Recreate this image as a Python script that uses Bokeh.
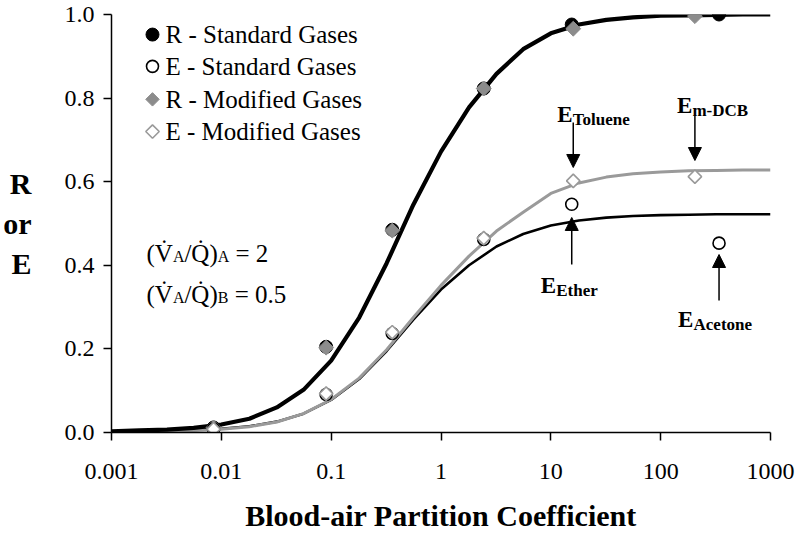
from bokeh.plotting import figure
from bokeh.models import Range1d, FixedTicker, Label, Arrow, NormalHead
from bokeh.embed import file_html
from bokeh.resources import INLINE
import math

# ---------------- data ----------------
lam_std = [0.0085, 0.09, 0.36, 2.45, 15.5, 340]
R_std = [0.012, 0.205, 0.485, 0.823, 0.976, 1.0]
E_std = [0.008, 0.091, 0.237, 0.462, 0.546, 0.453]

lam_mod = [0.0085, 0.09, 0.36, 2.45, 16.0, 205]
R_mod = [0.012, 0.203, 0.483, 0.823, 0.966, 0.996]
E_mod = [0.008, 0.093, 0.240, 0.465, 0.602, 0.612]

lam_curve = [0.001, 0.0018, 0.0032, 0.0056, 0.01, 0.018, 0.032, 0.056, 0.1,
             0.18, 0.32, 0.56, 1.0, 1.8, 3.2, 5.6, 10, 18, 32, 56, 100, 180,
             320, 560, 1000]
R_curve = [0.003, 0.005, 0.007, 0.011, 0.019, 0.033, 0.060, 0.102, 0.172,
           0.275, 0.405, 0.545, 0.672, 0.778, 0.858, 0.917, 0.955, 0.976,
           0.987, 0.993, 0.997, 0.998, 0.999, 1.0, 1.0]
E_curve_std = [0.002, 0.003, 0.004, 0.006, 0.009, 0.015, 0.026, 0.045, 0.078,
               0.128, 0.195, 0.270, 0.342, 0.400, 0.445, 0.475, 0.495, 0.507,
               0.514, 0.518, 0.520, 0.521, 0.522, 0.522, 0.522]
E_curve_mod = [0.001, 0.002, 0.003, 0.005, 0.008, 0.014, 0.025, 0.045, 0.079,
               0.130, 0.198, 0.275, 0.352, 0.422, 0.482, 0.527, 0.572, 0.597,
               0.611, 0.619, 0.623, 0.626, 0.627, 0.628, 0.628]

x_ticks = [0.001, 0.01, 0.1, 1, 10, 100, 1000]
x_tick_labels = ["0.001", "0.01", "0.1", "1", "10", "100", "1000"]
y_ticks = [0.0, 0.2, 0.4, 0.6, 0.8, 1.0]
y_tick_labels = ["0.0", "0.2", "0.4", "0.6", "0.8", "1.0"]

legend_labels = ["R - Standard Gases", "E - Standard Gases",
                 "R - Modified Gases", "E - Modified Gases"]

# ---------------- styles ----------------
FONT = "'Liberation Serif', 'Times New Roman', serif"
GREY_LINE = "#9a9a9a"
GREY_FILL = "#8c8c8c"

sty_R_std = dict(marker="circle", size=13, fill_color="black", line_color="black", line_width=1)
sty_E_std = dict(marker="circle", size=12, fill_color="white", line_color="black", line_width=1.6)
sty_R_mod = dict(marker="square", size=10.5, angle=math.pi / 4, fill_color=GREY_FILL,
                 line_color=GREY_FILL, line_width=1)
sty_E_mod = dict(marker="square", size=9.5, angle=math.pi / 4, fill_color="white",
                 line_color=GREY_LINE, line_width=1.6)

p = figure(width=800, height=534, x_axis_type="log",
           x_range=Range1d(0.001, 1000), y_range=Range1d(0, 1),
           output_backend="svg", toolbar_location=None,
           min_border_left=111, min_border_right=30,
           min_border_top=14, min_border_bottom=102)
p.background_fill_color = "white"
p.border_fill_color = "white"
p.outline_line_color = None
p.grid.visible = False

# curves
p.line(lam_curve, E_curve_std, line_color="black", line_width=2.6)
p.line(lam_curve, E_curve_mod, line_color=GREY_LINE, line_width=3)
p.line(lam_curve, R_curve, line_color="black", line_width=4.2)

# points
p.scatter(lam_std, R_std, **sty_R_std)
p.scatter(lam_mod, R_mod, **sty_R_mod)
p.scatter(lam_std, E_std, **sty_E_std)
p.scatter(lam_mod, E_mod, **sty_E_mod)

# axes
for ax in (p.xaxis[0], p.yaxis[0]):
    ax.axis_line_color = "black"
    ax.axis_line_width = 1.5
    ax.major_tick_line_color = "black"
    ax.major_tick_line_width = 1.5
    ax.major_tick_in = 0
    ax.major_tick_out = 8
    ax.minor_tick_line_color = None
    ax.major_label_text_font = FONT
    ax.major_label_text_font_size = "24px"
    ax.major_label_text_color = "black"
    ax.axis_label_text_font = FONT
    ax.axis_label_text_font_size = "30px"
    ax.axis_label_text_font_style = "bold"
    ax.axis_label_text_color = "black"

p.xaxis.ticker = FixedTicker(ticks=x_ticks)
p.xaxis.major_label_overrides = dict(zip(x_ticks, x_tick_labels))
p.xaxis.major_label_standoff = 23
p.xaxis.major_label_text_line_height = 1.0
p.xaxis.axis_label = "Blood-air Partition Coefficient"
p.xaxis.axis_label_standoff = 17
p.xaxis.axis_label_text_line_height = 1.0

p.yaxis.ticker = FixedTicker(ticks=y_ticks)
p.yaxis.major_label_overrides = dict(zip(y_ticks, y_tick_labels))
p.yaxis.major_label_standoff = 9
p.yaxis.axis_label = "R\nor\nE"
p.yaxis.axis_label_orientation = "horizontal"
p.yaxis.axis_label_standoff = 30


def label(x, y, text, size, bold=False, align="left", baseline="alphabetic", dx=0):
    p.add_layout(Label(x=x, y=y, text=text, x_offset=dx,
                       text_font=FONT, text_font_size=size,
                       text_font_style="bold" if bold else "normal",
                       text_align=align, text_baseline=baseline,
                       text_color="black"))


# legend (drawn by hand to keep rotated-square diamonds)
leg_mx, leg_tx = 0.002362, 0.003103
leg_y = [0.952, 0.876, 0.797, 0.720]
for yy, sty, txt in zip(leg_y, [sty_R_std, sty_E_std, sty_R_mod, sty_E_mod], legend_labels):
    s = dict(sty)
    if s["marker"] == "square":
        s["size"] = 9.5
    p.scatter([leg_mx], [yy], **s)
    label(leg_tx, yy, txt, "25px", baseline="middle")

# ventilation-perfusion ratios
vq_x = 0.002083
for yy, sub, rest, dxr in [(0.4282, "A", "= 2", 89.0), (0.3301, "B", "= 0.5", 88.2)]:
    label(vq_x, yy, "(V\u0307", "25px")
    label(vq_x, yy - 0.0072, "A", "16px", dx=26.4)
    label(vq_x, yy, "/Q\u0307)", "25px", dx=37.9)
    label(vq_x, yy - 0.0072, sub, "16px", dx=71.2)
    label(vq_x, yy, rest, "25px", dx=dxr)

# gas annotations: (subscript, gas x, arrow tail y, arrow tip y, label dx, label baseline y)
annots = [
    ("Toluene", lam_mod[4], 0.7416, 0.634, -16, 0.7608),
    ("m-DCB", lam_mod[5], 0.7584, 0.6507, -18, 0.7823),
    ("Ether", lam_std[4], 0.4019, 0.5144, -31, 0.3517),
    ("Acetone", lam_std[5], 0.3158, 0.4258, -41, 0.2703),
]
for sub, gx, y0, y1, dx, ly in annots:
    p.add_layout(Arrow(x_start=gx, y_start=y0, x_end=gx, y_end=y1,
                       line_color="black", line_width=1.5,
                       end=NormalHead(size=13, fill_color="black", line_color="black")))
    label(gx, ly, "E", "23px", bold=True, dx=dx)
    label(gx, ly - 0.012, sub, "17px", bold=True, dx=dx + 15.5)

open("out.html", "w").write(file_html(p, INLINE))
